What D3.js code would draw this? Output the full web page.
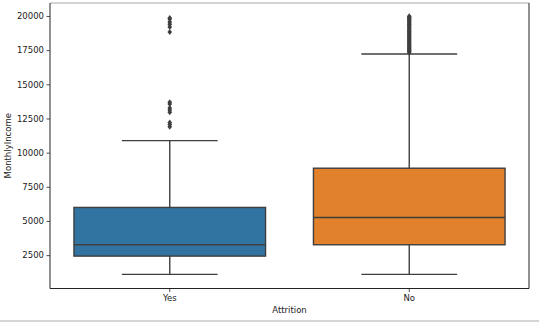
<!DOCTYPE html>
<html>
<head>
<meta charset="utf-8">
<script src="https://cdn.jsdelivr.net/npm/d3@7"></script>
<style>
  html, body { margin: 0; padding: 0; background: #fff; }
  svg { display: block; }
  text { font-family: "DejaVu Sans", sans-serif; fill: #222; }
</style>
</head>
<body>
<svg id="chart" width="539" height="323"></svg>
<script>
// Monthly income by attrition group: five-number box summaries plus fliers
const categories   = ["Yes", "No"];
const whiskerLow   = [1090, 1090];
const quartile1    = [2430, 3260];
const medians      = [3260, 5250];
const quartile3    = [5990, 8860];
const whiskerHigh  = [10880, 17220];
const fliersYes    = [11900, 12060, 12200, 12960, 13120, 13260, 13550, 13680, 18830, 19200, 19400, 19560, 19780, 19860];
const fliersNo     = [17300, 17400, 17470, 17550, 17620, 17700, 17780, 17860, 17930, 18000, 18080, 18170, 18250,
                      18320, 18400, 18480, 18560, 18640, 18720, 18800, 18880, 18960, 19040, 19120, 19200, 19280,
                      19350, 19420, 19500, 19580, 19650, 19720, 19800, 19860, 19920, 19980];
const yTicks       = [2500, 5000, 7500, 10000, 12500, 15000, 17500, 20000];
const fliers       = [fliersYes, fliersNo];
const boxColors    = ["#3274a1", "#e1812c"];

const svg = d3.select("#chart");
const plotLeft = 50, plotRight = 529, plotTop = 3, plotBottom = 288.5;
const lineColor = "#3f3f3f";

const x = d3.scaleBand().domain(categories).range([plotLeft, plotRight]).paddingInner(0).paddingOuter(0);
const y = d3.scaleLinear().domain([59.5, 20948.5]).range([plotBottom, plotTop]);

// axes
const yAxis = d3.axisLeft(y).tickValues(yTicks).tickSize(3.5).tickPadding(2.5).tickFormat(d3.format("d"));
const gy = svg.append("g").attr("transform", `translate(${plotLeft},0)`).call(yAxis);
gy.select(".domain").remove();
gy.selectAll("line").attr("stroke", "#222").attr("stroke-width", 0.8);
gy.selectAll("text").style("font-size", "8.5px").attr("fill", "#222");

const xAxis = d3.axisBottom(x).tickSize(3.5).tickPadding(2.5);
const gx = svg.append("g").attr("transform", `translate(0,${plotBottom})`).call(xAxis);
gx.select(".domain").remove();
gx.selectAll("line").attr("stroke", "#222").attr("stroke-width", 0.8);
gx.selectAll("text").style("font-size", "8.5px").attr("fill", "#222");

// boxes
const bw = x.bandwidth() * 0.8;
const g = svg.append("g");
categories.forEach((c, i) => {
  const cx = x(c) + x.bandwidth() / 2;
  const cap = bw / 2;
  // whiskers
  g.append("line").attr("x1", cx).attr("x2", cx).attr("y1", y(quartile3[i])).attr("y2", y(whiskerHigh[i]))
    .attr("stroke", lineColor).attr("stroke-width", 1.4);
  g.append("line").attr("x1", cx).attr("x2", cx).attr("y1", y(quartile1[i])).attr("y2", y(whiskerLow[i]))
    .attr("stroke", lineColor).attr("stroke-width", 1.4);
  g.append("line").attr("x1", cx - cap / 2).attr("x2", cx + cap / 2).attr("y1", y(whiskerHigh[i])).attr("y2", y(whiskerHigh[i]))
    .attr("stroke", lineColor).attr("stroke-width", 1.4);
  g.append("line").attr("x1", cx - cap / 2).attr("x2", cx + cap / 2).attr("y1", y(whiskerLow[i])).attr("y2", y(whiskerLow[i]))
    .attr("stroke", lineColor).attr("stroke-width", 1.4);
  // box
  g.append("rect").attr("x", cx - bw / 2).attr("width", bw)
    .attr("y", y(quartile3[i])).attr("height", y(quartile1[i]) - y(quartile3[i]))
    .attr("fill", boxColors[i]).attr("stroke", lineColor).attr("stroke-width", 1.4);
  // median
  g.append("line").attr("x1", cx - bw / 2).attr("x2", cx + bw / 2).attr("y1", y(medians[i])).attr("y2", y(medians[i]))
    .attr("stroke", lineColor).attr("stroke-width", 1.4);
  // fliers as thin diamonds
  g.selectAll(null).data(fliers[i]).enter().append("path")
    .attr("d", "M0,-3L2.3,0L0,3L-2.3,0Z")
    .attr("transform", d => `translate(${cx},${y(d)})`)
    .attr("fill", lineColor);
});

// spines
svg.append("line").attr("x1", plotLeft).attr("x2", plotRight).attr("y1", plotTop).attr("y2", plotTop).attr("stroke", "#c4c4c4").attr("stroke-width", 1.5);
svg.append("line").attr("x1", plotLeft).attr("x2", plotLeft).attr("y1", plotTop).attr("y2", plotBottom).attr("stroke", "#222").attr("stroke-width", 1);
svg.append("line").attr("x1", plotRight).attr("x2", plotRight).attr("y1", plotTop).attr("y2", plotBottom).attr("stroke", "#222").attr("stroke-width", 1);
svg.append("line").attr("x1", plotLeft).attr("x2", plotRight).attr("y1", plotBottom).attr("y2", plotBottom).attr("stroke", "#222").attr("stroke-width", 1);

// axis titles
svg.append("text").attr("x", (plotLeft + plotRight) / 2).attr("y", 313).attr("text-anchor", "middle")
  .style("font-size", "8.5px").text("Attrition");
svg.append("text").attr("transform", `translate(11,${(plotTop + plotBottom) / 2}) rotate(-90)`).attr("text-anchor", "middle")
  .style("font-size", "8.5px").text("MonthlyIncome");

// bottom separator rule
svg.append("line").attr("x1", 0).attr("x2", 539).attr("y1", 321).attr("y2", 321).attr("stroke", "#c8c8c8").attr("stroke-width", 1.5);
</script>
</body>
</html>
